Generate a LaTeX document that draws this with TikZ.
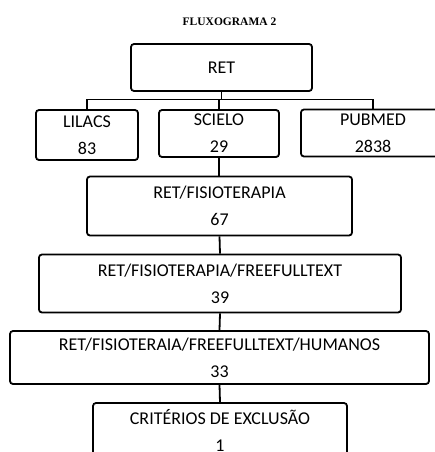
\documentclass[tikz,border=0pt]{standalone}
\usepackage{fontspec}
\setmainfont{Carlito}
\newfontfamily\titlefont{Liberation Serif}
\usetikzlibrary{positioning}

\tikzset{
  caixa/.style={draw,rounded corners=3pt,line width=1.8pt,inner sep=0pt,
    align=center,font=\fontsize{18}{27}\selectfont},
  liga/.style={line width=1.8pt}
}

\begin{document}
\begin{tikzpicture}[x=1pt,y=-1pt]
        \useasboundingbox (0,0) rectangle (435,452);
        \node[font=\titlefont\bfseries\fontsize{11.5}{13}\selectfont] (titulo) at (229.5,21.5) {FLUXOGRAMA 2};
        \node[caixa,minimum width=181pt,minimum height=47pt] (RET) at (221.5,67.5) {RET};
        \node[caixa,minimum width=102pt,minimum height=50pt] (LIL) at (87,135) {LILACS\\83};
        \node[caixa,minimum width=120pt,minimum height=47pt] (SCI) at (219,133.5) {SCIELO\\29};
        \node[caixa,minimum width=144pt,minimum height=47pt] (PUB) at (373,133) {PUBMED\\2838};
        \node[caixa,minimum width=265pt,minimum height=59pt] (FIS) at (219.5,206) {RET/FISIOTERAPIA\\67};
        \node[caixa,minimum width=362pt,minimum height=58pt] (FFT) at (220,283.5) {RET/FISIOTERAPIA/FREEFULLTEXT\\39};
        \node[caixa,minimum width=419pt,minimum height=53pt] (HUM) at (219.5,357.5) {RET/FISIOTERAIA/FREEFULLTEXT/HUMANOS\\33};
        \node[caixa,minimum width=254pt,minimum height=54pt] (EXC) at (220,430) {CRITÉRIOS DE EXCLUSÃO\\1};
        \coordinate (barra) at (221.5,99.5);
        \draw[liga] (RET.south) -- (barra);
        \draw[liga] (LIL.north) |- (barra) -| (PUB.north);
        \draw[liga] (SCI.north) -- (SCI.north |- barra);
        \draw[liga] (SCI.south) -- (FIS.north -| SCI.south);
        \draw[liga] (FIS.south) -- (FFT.north);
        \draw[liga] (FFT.south) -- (HUM.north);
        \draw[liga] (HUM.south) -- (EXC.north);
    \end{tikzpicture}
\end{document}
